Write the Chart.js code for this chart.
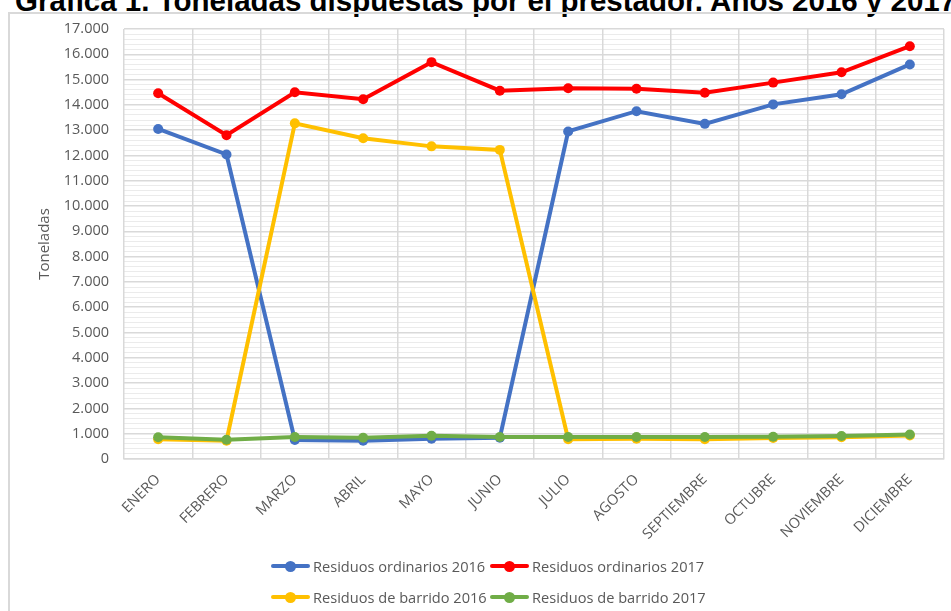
<!DOCTYPE html>
<html>
<head>
<meta charset="utf-8">
<script src="https://cdn.jsdelivr.net/npm/chart.js@4.4.1/dist/chart.umd.min.js"></script>
<style>
    body { margin: 0; background: #fff; }
    #page { position: relative; width: 951px; height: 611px; overflow: hidden; }
    #title {
        position: absolute; left: 15px; top: -16px; white-space: nowrap; line-height: 30px;
        font: bold 29.5px "Liberation Sans", Arial, sans-serif; color: #000;
    }
    #frame {
        position: absolute; left: 8px; top: 12px; width: 1000px; height: 700px;
        border-left: 2px solid #d9d9d9; border-top: 2px solid #d9d9d9;
    }
    #wrap { position: absolute; left: 0; top: 0; width: 951px; height: 611px; }
    #legend {
        position: absolute; left: 271px; top: 555px;
        display: grid; grid-template-columns: 219px 240px; row-gap: 9px;
        font: 14.6px "Open Sans", sans-serif; color: #595959;
    }
    .item { display: flex; align-items: center; height: 22px; }
    .swatch { position: relative; width: 39px; height: 4px; margin-right: 3px; border-radius: 2px; }
    .swatch i { position: absolute; left: 14px; top: -3.5px; width: 11px; height: 11px; border-radius: 50%; }
</style>
</head>
<body>
<div id="page">
    <div id="title">Gráfica 1. Toneladas dispuestas por el prestador. Años 2016 y 2017</div>
    <div id="frame"></div>
    <div id="wrap"><canvas id="wasteChart"></canvas></div>
    <div id="legend"></div>
</div>
<script>
// Data (toneladas por mes)
const months = ['ENERO', 'FEBRERO', 'MARZO', 'ABRIL', 'MAYO', 'JUNIO', 'JULIO',
    'AGOSTO', 'SEPTIEMBRE', 'OCTUBRE', 'NOVIEMBRE', 'DICIEMBRE'];
const ordinarios2016 = [13050, 12040, 750, 720, 800, 840, 12950, 13750, 13250, 14020, 14420, 15600];
const ordinarios2017 = [14460, 12800, 14500, 14220, 15690, 14560, 14660, 14640, 14480, 14880, 15290, 16320];
const barrido2016 = [780, 720, 13270, 12680, 12360, 12220, 780, 800, 780, 830, 860, 930];
const barrido2017 = [860, 760, 870, 840, 920, 870, 870, 870, 870, 880, 910, 970];
const seriesNames = ['Residuos ordinarios 2016', 'Residuos ordinarios 2017',
    'Residuos de barrido 2016', 'Residuos de barrido 2017'];
const seriesColors = ['#4472C4', '#FF0000', '#FFC000', '#70AD47'];

const textColor = '#595959';
const gridColor = '#d9d9d9';

function makeDataset(i, values) {
    return {
        label: seriesNames[i],
        data: values,
        borderColor: seriesColors[i],
        backgroundColor: seriesColors[i],
        borderWidth: 4,
        pointRadius: 5,
        pointHoverRadius: 5,
        pointBorderWidth: 0,
        tension: 0,
        order: 4 - i   // green ends on top like the original
    };
}

const ctx = document.getElementById('wasteChart').getContext('2d');
const wasteChart = new Chart(ctx, {
    type: 'line',
    data: {
        labels: months,
        datasets: [
            makeDataset(0, ordinarios2016),
            makeDataset(1, ordinarios2017),
            makeDataset(2, barrido2016),
            makeDataset(3, barrido2017)
        ]
    },
    options: {
        responsive: true,
        maintainAspectRatio: false,
        animation: false,
        layout: { padding: { top: 29, right: 7, left: 0, bottom: 0 } },
        plugins: {
            legend: { display: false },
            tooltip: { enabled: false }
        },
        scales: {
            // minor gridlines every 200
            yMinor: {
                position: 'left',
                min: 0,
                max: 17000,
                ticks: { display: false, stepSize: 200 },
                grid: {
                    drawTicks: false,
                    color: c => (c.tick.value % 1000 === 0 ? 'rgba(0,0,0,0)' : '#ebebeb')
                },
                border: { display: false },
                afterFit: s => { s.width = 0; }
            },
            y: {
                position: 'left',
                min: 0,
                max: 17000,
                ticks: {
                    stepSize: 1000,
                    color: textColor,
                    padding: 15,
                    font: { family: 'Open Sans', size: 14.5 },
                    callback: v => v === 0 ? '0' : v.toLocaleString('de-DE', { minimumFractionDigits: 0 })
                },
                grid: { color: gridColor, lineWidth: 1.5, drawTicks: false },
                border: { display: false },
                title: {
                    display: true,
                    text: 'Toneladas',
                    color: textColor,
                    font: { family: 'Open Sans', size: 15 },
                    padding: { top: 36 }
                },
                afterFit: s => { s.width = 124; }
            },
            x: {
                offset: true,
                ticks: {
                    color: textColor,
                    minRotation: 45,
                    maxRotation: 45,
                    padding: 12,
                    font: { family: 'Open Sans', size: 14.5 }
                },
                grid: { offset: true, color: gridColor, lineWidth: 1.5, drawTicks: false },
                border: { color: gridColor, width: 1.5 },
                afterFit: s => { s.height = 152; }
            }
        }
    }
});

// HTML legend, built from the datasets
const legendBox = document.getElementById('legend');
wasteChart.data.datasets.forEach(ds => {
    const item = document.createElement('div');
    item.className = 'item';
    item.innerHTML = '<span class="swatch" style="background:' + ds.borderColor + '">' +
        '<i style="background:' + ds.borderColor + '"></i></span>' + ds.label;
    legendBox.appendChild(item);
});
</script>
</body>
</html>
